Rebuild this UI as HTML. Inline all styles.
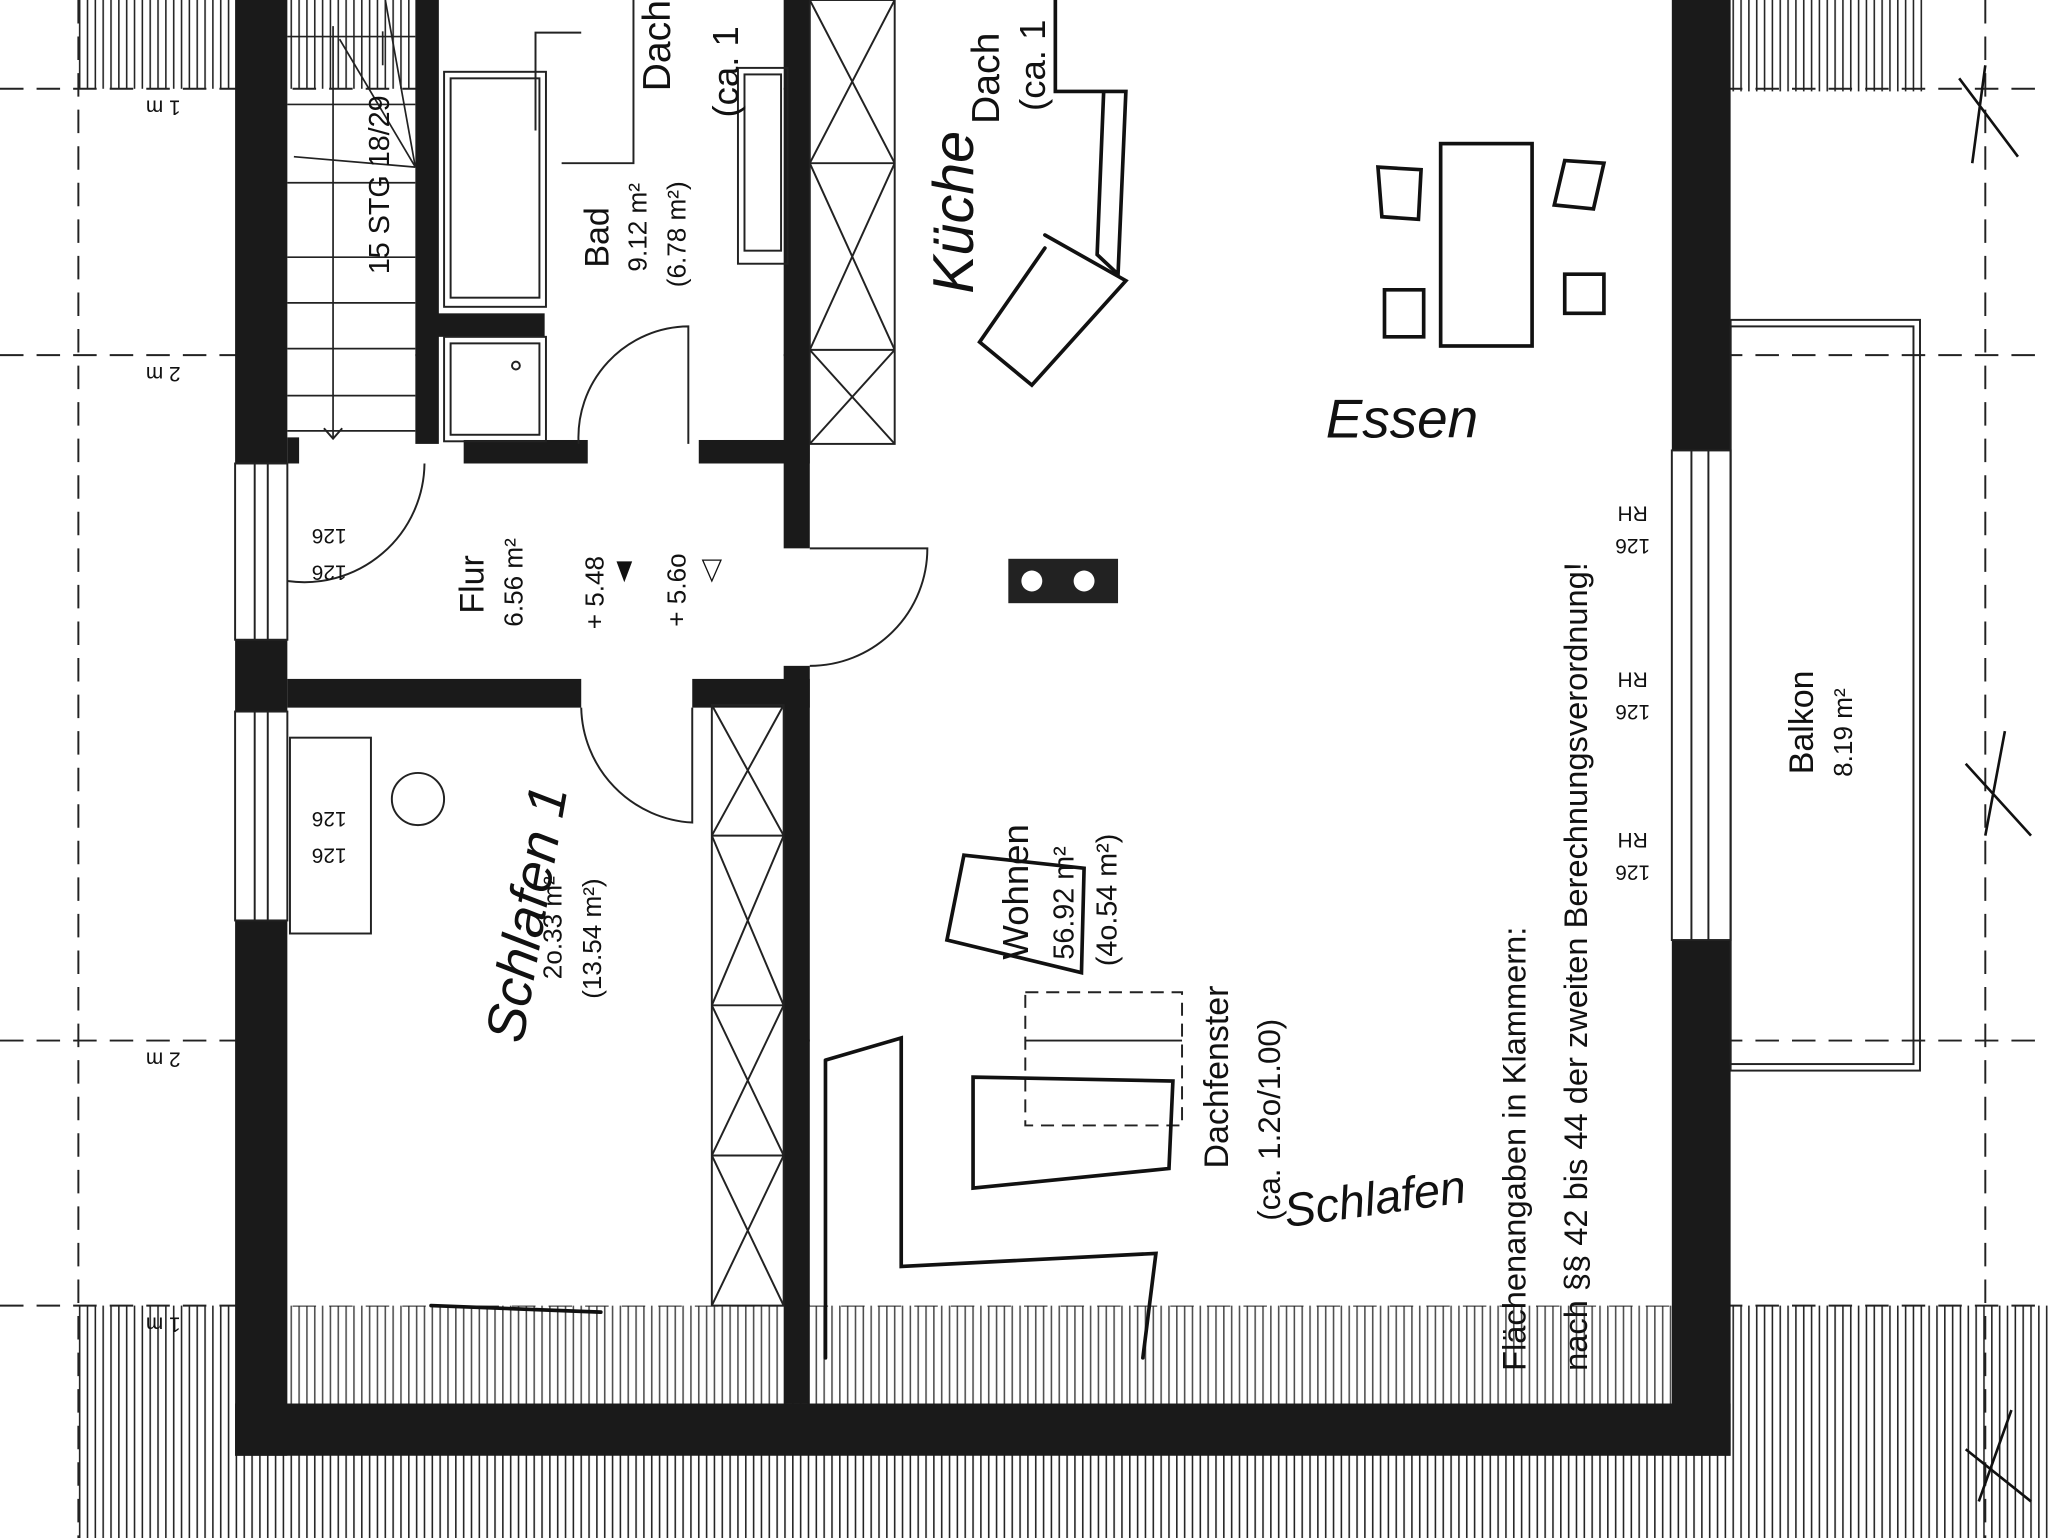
<!DOCTYPE html>
<html><head><meta charset="utf-8"><style>
html,body{margin:0;padding:0;background:#fff;}
svg{display:block;}
text{font-family:"Liberation Sans",sans-serif;fill:#111;}
.h{font-family:"Liberation Serif",serif;font-style:italic;}
</style></head><body>
<svg width="2048" height="1538" viewBox="0 0 1568 1178" preserveAspectRatio="none" xmlns="http://www.w3.org/2000/svg">
<defs>
<pattern id="vh" width="6" height="10" patternUnits="userSpaceOnUse"><line x1="1" y1="0" x2="1" y2="10" stroke="#222" stroke-width="1.2"/></pattern>
</defs>
<rect width="1568" height="1178" fill="#fff"/>
<!-- hatched roof strips -->
<rect x="60" y="0" width="120" height="68" fill="url(#vh)"/>
<rect x="1020" y="0" width="260" height="70" fill="url(#vh)"/>
<rect x="1325" y="0" width="150" height="70" fill="url(#vh)"/>
<rect x="60" y="1000" width="1508" height="178" fill="url(#vh)"/>
<rect x="220" y="1000" width="1060" height="75" fill="#fff"/>
<rect x="220" y="1000" width="1060" height="75" fill="url(#vh)" opacity="0.8"/>
<rect x="220" y="0" width="100" height="68" fill="url(#vh)"/>
<!-- dashed lines -->
<g stroke="#222" stroke-width="1.5" stroke-dasharray="18,10" fill="none">
<line x1="0" y1="68" x2="1568" y2="68"/>
<line x1="0" y1="272" x2="1568" y2="272"/>
<line x1="0" y1="797" x2="1568" y2="797"/>
<line x1="0" y1="1000" x2="1568" y2="1000"/>
<line x1="60" y1="0" x2="60" y2="1178"/>
<line x1="1520" y1="0" x2="1520" y2="1178"/>
</g>
<!-- interior white -->
<rect x="320" y="0" width="280" height="340" fill="#fff"/>
<rect x="620" y="0" width="660" height="1000" fill="#fff"/>
<rect x="220" y="355" width="380" height="645" fill="#fff"/>
<rect x="222" y="70" width="96" height="265" fill="#fff"/>
<!-- walls -->
<g fill="#1a1a1a">
<rect x="180" y="0" width="40" height="355"/>
<rect x="180" y="490" width="40" height="55"/>
<rect x="180" y="705" width="40" height="410"/>
<rect x="180" y="1075" width="1145" height="40"/>
<rect x="1280" y="0" width="45" height="345"/>
<rect x="1280" y="720" width="45" height="395"/>
<rect x="600" y="0" width="20" height="420"/>
<rect x="600" y="510" width="20" height="565"/>
<rect x="318" y="0" width="18" height="340"/>
<rect x="335" y="240" width="82" height="18"/>
<rect x="220" y="335" width="9" height="20"/>
<rect x="355" y="337" width="95" height="18"/>
<rect x="535" y="337" width="85" height="18"/>
<rect x="220" y="520" width="225" height="22"/>
<rect x="530" y="520" width="90" height="22"/>
</g>
<!-- windows -->
<g stroke="#222" stroke-width="1.5" fill="none">
<rect x="180" y="355" width="40" height="135"/>
<line x1="195" y1="355" x2="195" y2="490"/><line x1="205" y1="355" x2="205" y2="490"/>
<rect x="180" y="545" width="40" height="160"/>
<line x1="195" y1="545" x2="195" y2="705"/><line x1="205" y1="545" x2="205" y2="705"/>
<rect x="1280" y="345" width="45" height="375"/>
<line x1="1295" y1="345" x2="1295" y2="720"/><line x1="1308" y1="345" x2="1308" y2="720"/>
<rect x="1325" y="245" width="145" height="575"/>
<rect x="1325" y="250" width="140" height="565"/>
<rect x="222" y="565" width="62" height="150"/>
<!-- stairs -->
<g stroke-width="1.3">
<line x1="220" y1="28" x2="318" y2="28"/><line x1="220" y1="80" x2="318" y2="80"/>
<line x1="220" y1="140" x2="318" y2="140"/><line x1="220" y1="197" x2="318" y2="197"/>
<line x1="220" y1="232" x2="318" y2="232"/><line x1="220" y1="267" x2="318" y2="267"/>
<line x1="220" y1="303" x2="318" y2="303"/><line x1="220" y1="330" x2="318" y2="330"/>
<line x1="295" y1="0" x2="318" y2="128"/><line x1="260" y1="30" x2="318" y2="128"/>
<line x1="225" y1="120" x2="318" y2="128"/>
<line x1="293" y1="24" x2="293" y2="50"/>
<line x1="255" y1="20" x2="255" y2="335"/>
</g>
<path d="M248 328 L255 336 L262 328" />
<!-- bath -->
<rect x="340" y="55" width="78" height="180"/><rect x="345" y="60" width="68" height="168"/>
<rect x="340" y="258" width="78" height="80"/><rect x="345" y="263" width="68" height="70"/>
<circle cx="395" cy="280" r="3"/>
<rect x="565" y="52" width="38" height="150"/><rect x="570" y="57" width="28" height="135"/>
<path d="M443 340 A85 85 0 0 1 527 250 L527 340"/>
<path d="M325 355 A92 92 0 0 1 220 445"/>
<path d="M620 420 L710 420 A90 90 0 0 1 620 510"/>
<path d="M445 542 A90 90 0 0 0 530 630 L530 542"/>
<polyline points="445,25 410,25 410,100"/><polyline points="485,0 485,125 430,125"/>
<!-- shafts X -->
<rect x="620" y="0" width="65" height="340"/>
<line x1="620" y1="125" x2="685" y2="125"/><line x1="620" y1="268" x2="685" y2="268"/>
<path d="M620 0 L685 125 M685 0 L620 125 M620 125 L685 268 M685 125 L620 268 M620 268 L685 340 M685 268 L620 340"/>
<rect x="545" y="540" width="55" height="460"/>
<line x1="545" y1="640" x2="600" y2="640"/><line x1="545" y1="770" x2="600" y2="770"/><line x1="545" y1="885" x2="600" y2="885"/>
<path d="M545 540 L600 640 M600 540 L545 640 M545 640 L600 770 M600 640 L545 770 M545 770 L600 885 M600 770 L545 885 M545 885 L600 1000 M600 885 L545 1000"/>
<circle cx="320" cy="612" r="20"/>
<rect x="785" y="760" width="120" height="102" stroke-dasharray="10,6"/>
<line x1="785" y1="797" x2="905" y2="797"/>
</g>
<!-- cooktop -->
<rect x="772" y="428" width="84" height="34" fill="#222"/>
<circle cx="790" cy="445" r="8" fill="#fff"/><circle cx="830" cy="445" r="8" fill="#fff"/>
<!-- hand sketches -->
<g stroke="#111" stroke-width="2.8" fill="none" stroke-linecap="round">
<path d="M808 0 L808 70 L862 70 L856 210 L840 195 L845 70"/>
<path d="M800 180 L862 215 L790 295 L750 262 L800 190"/>
<rect x="1103" y="110" width="70" height="155"/>
<path d="M1055 128 L1088 130 L1086 168 L1058 166 Z"/>
<path d="M1060 222 L1090 222 L1090 258 L1060 258 Z"/>
<path d="M1198 123 L1228 125 L1220 160 L1190 157 Z"/>
<path d="M1198 210 L1228 210 L1228 240 L1198 240 Z"/>
<path d="M738 655 L830 665 L828 745 L725 720 Z"/>
<path d="M745 825 L898 828 L895 895 L745 910 Z"/>
<path d="M632 812 L690 795 L690 970 L885 960 L875 1040 M632 812 L632 1040"/>
<path d="M330 1000 L460 1005"/>
</g>
<!-- balcony X marks -->
<g stroke="#111" stroke-width="2">
<path d="M1500 60 L1545 120 M1520 50 L1510 125"/>
<path d="M1505 585 L1555 640 M1535 560 L1520 640"/>
<path d="M1505 1110 L1555 1150 M1540 1080 L1515 1150"/>
</g>
<!-- text (rotated) -->
<g font-size="22">
<text transform="translate(298,210) rotate(-90)">15 STG 18/29</text>
<text transform="translate(466,205) rotate(-90)" font-size="26">Bad</text>
<text transform="translate(495,208) rotate(-90)" font-size="20">9.12 m²</text>
<text transform="translate(525,220) rotate(-90)" font-size="20">(6.78 m²)</text>
<text transform="translate(513,70) rotate(-90)" font-size="30">Dach</text>
<text transform="translate(565,90) rotate(-90)" font-size="28">(ca. 1</text>
<text transform="translate(765,95) rotate(-90)" font-size="30">Dach</text>
<text transform="translate(800,85) rotate(-90)" font-size="28">(ca. 1</text>
<text transform="translate(370,470) rotate(-90)" font-size="26">Flur</text>
<text transform="translate(400,480) rotate(-90)" font-size="20">6.56 m²</text>
<text transform="translate(462,482) rotate(-90)" font-size="20">+ 5.48</text>
<text transform="translate(525,480) rotate(-90)" font-size="20">+ 5.6o</text>
<text transform="translate(430,750) rotate(-90)" font-size="20">2o.33 m²</text>
<text transform="translate(460,765) rotate(-90)" font-size="20">(13.54 m²)</text>
<text transform="translate(787,735) rotate(-90)" font-size="28">Wohnen</text>
<text transform="translate(822,735) rotate(-90)" font-size="22">56.92 m²</text>
<text transform="translate(855,740) rotate(-90)" font-size="22">(4o.54 m²)</text>
<text transform="translate(940,895) rotate(-90)" font-size="26">Dachfenster</text>
<text transform="translate(980,935) rotate(-90)" font-size="24">(ca. 1.2o/1.00)</text>
<text transform="translate(1168,1050) rotate(-90)" font-size="25">Flächenangaben in Klammern:</text>
<text transform="translate(1215,1050) rotate(-90)" font-size="25">nach §§ 42 bis 44 der zweiten Berechnungsverordnung!</text>
<text transform="translate(1388,593) rotate(-90)" font-size="26">Balkon</text>
<text transform="translate(1418,595) rotate(-90)" font-size="20">8.19 m²</text>
<g font-size="16" text-anchor="middle">
<text transform="translate(252,405) rotate(180)">126</text>
<text transform="translate(252,433) rotate(180)">126</text>
<text transform="translate(252,622) rotate(180)">126</text>
<text transform="translate(252,650) rotate(180)">126</text>
<text transform="translate(1250,388) rotate(180)">RH</text><text transform="translate(1250,413) rotate(180)">126</text>
<text transform="translate(1250,515) rotate(180)">RH</text><text transform="translate(1250,540) rotate(180)">126</text>
<text transform="translate(1250,638) rotate(180)">RH</text><text transform="translate(1250,663) rotate(180)">126</text>
<text transform="translate(125,77) rotate(180)">1 m</text>
<text transform="translate(125,281) rotate(180)">2 m</text>
<text transform="translate(125,806) rotate(180)">2 m</text>
<text transform="translate(125,1009) rotate(180)">1 m</text>
</g>
</g>
<polygon points="470,432 486,438 470,444" fill="#111" transform="rotate(90 478 438)"/>
<polygon points="537,430 553,437 537,444" fill="none" stroke="#111" transform="rotate(90 545 437)"/>
<!-- handwriting -->
<g class="h" font-size="44">
<text transform="translate(745,225) rotate(-90)">Küche</text>
<text x="1015" y="335" font-size="42">Essen</text>
<text transform="translate(400,800) rotate(-80)" font-size="42">Schlafen 1</text>
<text x="985" y="940" font-size="36" transform="rotate(-8 985 940)">Schlafen</text>
</g>
</svg>
</body></html>
